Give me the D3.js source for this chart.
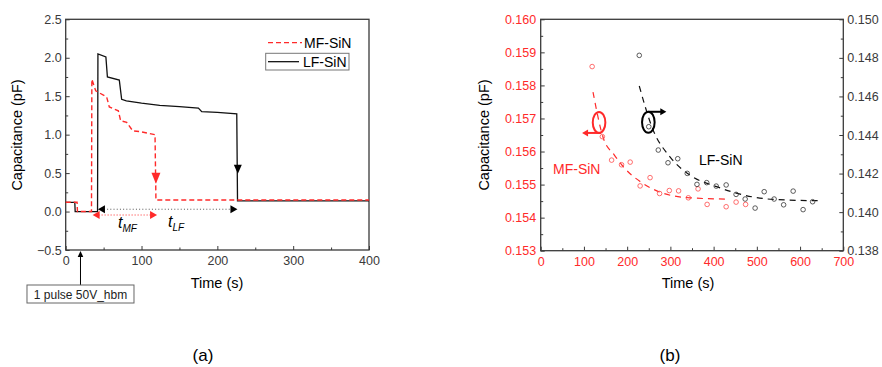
<!DOCTYPE html>
<html><head><meta charset="utf-8">
<script src="https://cdn.jsdelivr.net/npm/d3@7"></script>
<style>
body{margin:0;background:#fff}
svg{display:block}
text{font-family:"Liberation Sans",Arial,Helvetica,sans-serif}
</style>
</head><body>
<svg id="c" width="882" height="367"></svg>
<script>
// ---------------- DATA: panel (a) ----------------
const lfTime = [0, 12, 12.5, 42, 42.5, 53, 55, 70.7, 73.8, 80, 100, 124, 150, 175, 179.4, 200, 225.6, 226.6, 400];
const lfCap  = [0.12, 0.12, 0.0, 0.0, 2.05, 2.01, 1.75, 1.71, 1.46, 1.44, 1.41, 1.38, 1.365, 1.345, 1.30, 1.29, 1.27, 0.14, 0.14];
const mfTime = [0, 15, 15.5, 34, 34.5, 39.6, 54, 57.5, 69.4, 72.5, 80.4, 88.4, 98, 117.8, 119, 400];
const mfCap  = [0.12, 0.12, 0.0, 0.0, 1.72, 1.57, 1.49, 1.36, 1.31, 1.18, 1.16, 1.05, 1.04, 1.00, 0.15, 0.15];
const aXTicks = [0, 100, 200, 300, 400];
const aXMinor = [50, 150, 250, 350];
const aYTicks = [-0.5, 0, 0.5, 1.0, 1.5, 2.0, 2.5];
const aYMinor = [-0.25, 0.25, 0.75, 1.25, 1.75, 2.25];
const legendLabels = ["MF-SiN", "LF-SiN"];
const pulseTime = 19.5;
const pulseLabel = "1 pulse 50V_hbm";
// interval markers: [start, end, level]
const lfInterval = [42.5, 226.5, 0.03];
const mfInterval = [35.5, 120.5, -0.045];
const mfDropArrow = [119, 0.36];   // time, tip value
const lfDropArrow = [227, 0.49];

// ---------------- DATA: panel (b) ----------------
const mfT = [119, 142.6, 164, 187, 207, 230, 253, 275, 297.5, 319, 341.5, 364, 385, 429, 452, 474];
const mfC = [0.15857, 0.15645, 0.15574, 0.15560, 0.15568, 0.15496, 0.15521, 0.15473, 0.15482, 0.15481, 0.15460, 0.15487, 0.15440, 0.15433, 0.15447, 0.15440];
const lfT = [228, 250, 272, 294.5, 317, 339, 361.5, 384, 406, 429, 452, 473, 496, 517, 540, 562, 584, 607, 629];
const lfC = [0.14813, 0.14443, 0.14322, 0.14256, 0.14277, 0.14201, 0.14144, 0.14153, 0.14135, 0.14141, 0.14092, 0.14068, 0.14021, 0.14106, 0.14068, 0.14038, 0.14109, 0.14013, 0.14054];
const mfFitT = [121, 145, 170, 191, 230, 283, 345, 437];
const mfFitC = [0.15780, 0.15640, 0.15590, 0.15554, 0.15509, 0.15474, 0.15460, 0.15456];
const lfFitT = [228, 260, 299, 345, 407, 469, 538, 646];
const lfFitC = [0.14654, 0.14426, 0.14287, 0.14192, 0.14132, 0.14089, 0.14066, 0.14059];
const bXTicks = [0, 100, 200, 300, 400, 500, 600, 700];
const bXMinor = [50, 150, 250, 350, 450, 550, 650];
const bYLTicks = [0.153, 0.154, 0.155, 0.156, 0.157, 0.158, 0.159, 0.160];
const bYLMinor = [0.1535, 0.1545, 0.1555, 0.1565, 0.1575, 0.1585, 0.1595];
const bYRTicks = [0.138, 0.140, 0.142, 0.144, 0.146, 0.148, 0.150];
const bYRMinor = [0.139, 0.141, 0.143, 0.145, 0.147, 0.149];
const mfMarker = [135, 0.15688];   // ellipse centre (t, left-axis value)
const lfMarker = [249, 0.14466];   // ellipse centre (t, right-axis value)

// ---------------- DRAW ----------------
const svg = d3.select("#c");
const RED = "#ff2a2a", AX = "#3a3a3a";

function frame(g, x, y) {
  const [x0, x1] = x.range(), [y0, y1] = y.range();
  g.append("rect").attr("x", x0).attr("y", y1).attr("width", x1 - x0).attr("height", y0 - y1)
    .attr("fill", "none").attr("stroke", AX).attr("stroke-width", 1.3);
}
function styleAxis(sel, color, size) {
  sel.select(".domain").remove();
  sel.selectAll(".tick line").attr("stroke", AX).attr("stroke-width", 1);
  sel.selectAll(".tick text").attr("fill", color).attr("font-size", size)
     .attr("font-family", '"Liberation Sans",Arial,sans-serif');
}
function arrowHead(g, tipX, tipY, dir, len, half, color) {
  let p;
  if (dir === "left") p = [[tipX, tipY], [tipX + len, tipY - half], [tipX + len, tipY + half]];
  else if (dir === "right") p = [[tipX, tipY], [tipX - len, tipY - half], [tipX - len, tipY + half]];
  else if (dir === "down") p = [[tipX, tipY], [tipX - half, tipY - len], [tipX + half, tipY - len]];
  else p = [[tipX, tipY], [tipX - half, tipY + len], [tipX + half, tipY + len]];
  g.append("path").attr("d", "M" + p.join("L") + "Z").attr("fill", color);
}

// ===== Panel (a) =====
const xA = d3.scaleLinear().domain([0, 400]).range([65.7, 369]);
const yA = d3.scaleLinear().domain([-0.5, 2.5]).range([250, 19.3]);
const gA = svg.append("g");

gA.append("g").attr("transform", `translate(0,${yA.range()[0]})`)
  .call(d3.axisBottom(xA).tickValues(aXTicks).tickSize(-4).tickPadding(6).tickFormat(d3.format("d")))
  .call(s => styleAxis(s, AX, 12.5));
gA.append("g").attr("transform", `translate(0,${yA.range()[0]})`)
  .call(d3.axisBottom(xA).tickValues(aXMinor).tickSize(-2.5).tickFormat(""))
  .call(s => styleAxis(s, AX, 12));
gA.append("g").attr("transform", `translate(${xA.range()[0]},0)`)
  .call(d3.axisLeft(yA).tickValues(aYTicks).tickSize(-4).tickPadding(4).tickFormat(d3.format(".1f")))
  .call(s => styleAxis(s, AX, 12.5));
gA.append("g").attr("transform", `translate(${xA.range()[0]},0)`)
  .call(d3.axisLeft(yA).tickValues(aYMinor).tickSize(-2.5).tickFormat(""))
  .call(s => styleAxis(s, AX, 12));
frame(gA, xA, yA);

const lineA = d3.line().x(d => xA(d[0])).y(d => yA(d[1]));
gA.append("path").datum(lfTime.map((t, i) => [t, lfCap[i]]))
  .attr("d", lineA).attr("fill", "none").attr("stroke", "#111").attr("stroke-width", 1.3);
gA.append("path").datum(mfTime.map((t, i) => [t, mfCap[i]]))
  .attr("d", lineA).attr("fill", "none").attr("stroke", RED).attr("stroke-width", 1.4)
  .attr("stroke-dasharray", "5,3");

// drop arrows
arrowHead(gA, xA(mfDropArrow[0]), yA(mfDropArrow[1]), "down", 11, 4.5, RED);
arrowHead(gA, xA(lfDropArrow[0]), yA(lfDropArrow[1]), "down", 9, 4, "#000");

// interval arrows
gA.append("line").attr("x1", xA(lfInterval[0]) + 6).attr("x2", xA(lfInterval[1]) - 6)
  .attr("y1", yA(lfInterval[2])).attr("y2", yA(lfInterval[2]))
  .attr("stroke", "#555").attr("stroke-width", 1).attr("stroke-dasharray", "1,2.2");
arrowHead(gA, xA(lfInterval[0]), yA(lfInterval[2]), "left", 7, 4, "#000");
arrowHead(gA, xA(lfInterval[1]), yA(lfInterval[2]), "right", 7, 4, "#000");
gA.append("line").attr("x1", xA(mfInterval[0]) + 6).attr("x2", xA(mfInterval[1]) - 6)
  .attr("y1", yA(mfInterval[2])).attr("y2", yA(mfInterval[2]))
  .attr("stroke", RED).attr("stroke-width", 1).attr("stroke-dasharray", "1,2");
arrowHead(gA, xA(mfInterval[0]), yA(mfInterval[2]), "left", 7, 4, RED);
arrowHead(gA, xA(mfInterval[1]), yA(mfInterval[2]), "right", 7, 4, RED);

// t_MF, t_LF labels
function tLabel(g, x, y, sub) {
  const t = g.append("text").attr("x", x).attr("y", y)
    .attr("font-family", '"Liberation Serif","Times New Roman",serif').attr("font-style", "italic")
    .attr("font-size", 16).attr("fill", "#000");
  t.append("tspan").text("t");
  t.append("tspan").attr("dy", 4).attr("font-size", 10).text(sub);
}
tLabel(gA, xA(69), yA(-0.22), "MF");
tLabel(gA, xA(135), yA(-0.2), "LF");

// legend
const legY1 = 42.7, legY2 = 61.7, legX = 268;
gA.append("rect").attr("x", 265.7).attr("y", 53.3).attr("width", 83.3).attr("height", 16.7)
  .attr("fill", "#fff").attr("stroke", "#777").attr("stroke-width", 1);
gA.append("line").attr("x1", legX).attr("x2", legX + 34).attr("y1", legY1).attr("y2", legY1)
  .attr("stroke", RED).attr("stroke-width", 1.3).attr("stroke-dasharray", "5,3");
gA.append("text").attr("x", legX + 36).attr("y", legY1 + 5).attr("font-size", 14).attr("fill", "#000").text(legendLabels[0]);
gA.append("line").attr("x1", legX).attr("x2", legX + 31).attr("y1", legY2).attr("y2", legY2)
  .attr("stroke", "#000").attr("stroke-width", 1.2);
gA.append("text").attr("x", legX + 35).attr("y", legY2 + 5).attr("font-size", 14).attr("fill", "#000").text(legendLabels[1]);

// pulse annotation
const px = xA(pulseTime), py0 = yA.range()[0];
gA.append("line").attr("x1", px).attr("x2", px).attr("y1", py0 + 6).attr("y2", py0 + 35)
  .attr("stroke", "#000").attr("stroke-width", 1);
arrowHead(gA, px, py0 + 1, "up", 6, 2.8, "#000");
gA.append("rect").attr("x", px - 53.5).attr("y", py0 + 35).attr("width", 107).attr("height", 18)
  .attr("fill", "#fff").attr("stroke", "#666").attr("stroke-width", 1);
gA.append("text").attr("x", px).attr("y", py0 + 48.5).attr("text-anchor", "middle")
  .attr("font-size", 12).attr("fill", "#222").text(pulseLabel);

// titles
gA.append("text").attr("transform", "translate(22,135) rotate(-90)").attr("text-anchor", "middle")
  .attr("font-size", 14.5).attr("fill", "#000").text("Capacitance (pF)");
gA.append("text").attr("x", 217).attr("y", 288).attr("text-anchor", "middle")
  .attr("font-size", 14.5).attr("fill", "#000").text("Time (s)");

// ===== Panel (b) =====
const xB = d3.scaleLinear().domain([0, 700]).range([540.7, 843.3]);
const yBL = d3.scaleLinear().domain([0.153, 0.160]).range([250.7, 19.3]);
const yBR = d3.scaleLinear().domain([0.138, 0.150]).range([250.7, 19.3]);
const gB = svg.append("g");

gB.append("g").attr("transform", `translate(0,${yBL.range()[0]})`)
  .call(d3.axisBottom(xB).tickValues(bXTicks).tickSize(-4).tickPadding(6).tickFormat(d3.format("d")))
  .call(s => styleAxis(s, RED, 12.5));
gB.append("g").attr("transform", `translate(0,${yBL.range()[0]})`)
  .call(d3.axisBottom(xB).tickValues(bXMinor).tickSize(-2.5).tickFormat(""))
  .call(s => styleAxis(s, RED, 12));
gB.append("g").attr("transform", `translate(${xB.range()[0]},0)`)
  .call(d3.axisLeft(yBL).tickValues(bYLTicks).tickSize(-4).tickPadding(4.5).tickFormat(d3.format(".3f")))
  .call(s => styleAxis(s, RED, 12.5));
gB.append("g").attr("transform", `translate(${xB.range()[0]},0)`)
  .call(d3.axisLeft(yBL).tickValues(bYLMinor).tickSize(-2.5).tickFormat(""))
  .call(s => styleAxis(s, RED, 12));
gB.append("g").attr("transform", `translate(${xB.range()[1]},0)`)
  .call(d3.axisRight(yBR).tickValues(bYRTicks).tickSize(-4).tickPadding(4).tickFormat(d3.format(".3f")))
  .call(s => styleAxis(s, AX, 12.5));
gB.append("g").attr("transform", `translate(${xB.range()[1]},0)`)
  .call(d3.axisRight(yBR).tickValues(bYRMinor).tickSize(-2.5).tickFormat(""))
  .call(s => styleAxis(s, AX, 12));
frame(gB, xB, yBL);

// fits
gB.append("path").datum(mfFitT.map((t, i) => [t, mfFitC[i]]))
  .attr("d", d3.line().x(d => xB(d[0])).y(d => yBL(d[1])).curve(d3.curveMonotoneX))
  .attr("fill", "none").attr("stroke", RED).attr("stroke-width", 1.2).attr("stroke-dasharray", "6,5");
gB.append("path").datum(lfFitT.map((t, i) => [t, lfFitC[i]]))
  .attr("d", d3.line().x(d => xB(d[0])).y(d => yBR(d[1])).curve(d3.curveMonotoneX))
  .attr("fill", "none").attr("stroke", "#111").attr("stroke-width", 1.2).attr("stroke-dasharray", "6,5");

// points
gB.selectAll("circle.mf").data(mfT.map((t, i) => [t, mfC[i]])).join("circle").attr("class", "mf")
  .attr("cx", d => xB(d[0])).attr("cy", d => yBL(d[1])).attr("r", 2.3)
  .attr("fill", "none").attr("stroke", "#ff4a4a").attr("stroke-width", 0.8);
gB.selectAll("circle.lf").data(lfT.map((t, i) => [t, lfC[i]])).join("circle").attr("class", "lf")
  .attr("cx", d => xB(d[0])).attr("cy", d => yBR(d[1])).attr("r", 2.3)
  .attr("fill", "none").attr("stroke", "#333").attr("stroke-width", 0.8);

// axis-pointer ellipses
const mcx = xB(mfMarker[0]), mcy = yBL(mfMarker[1]);
gB.append("ellipse").attr("cx", mcx).attr("cy", mcy).attr("rx", 6.3).attr("ry", 10.5)
  .attr("fill", "none").attr("stroke", RED).attr("stroke-width", 2);
gB.append("line").attr("x1", mcx + 2).attr("x2", mcx - 12).attr("y1", mcy + 10.5).attr("y2", mcy + 10.5)
  .attr("stroke", RED).attr("stroke-width", 2);
arrowHead(gB, mcx - 17, mcy + 10.5, "left", 6, 3.5, RED);
const lcx = xB(lfMarker[0]), lcy = yBR(lfMarker[1]);
gB.append("ellipse").attr("cx", lcx).attr("cy", lcy).attr("rx", 6.3).attr("ry", 10.5)
  .attr("fill", "none").attr("stroke", "#000").attr("stroke-width", 2);
gB.append("line").attr("x1", lcx).attr("x2", lcx + 13).attr("y1", lcy - 10.5).attr("y2", lcy - 10.5)
  .attr("stroke", "#000").attr("stroke-width", 2);
arrowHead(gB, lcx + 18, lcy - 10.5, "right", 6, 3.5, "#000");

// series labels
gB.append("text").attr("x", 553).attr("y", 174).attr("font-size", 14).attr("fill", RED).text("MF-SiN");
gB.append("text").attr("x", 699).attr("y", 165).attr("font-size", 14).attr("fill", "#000").text("LF-SiN");

// titles
gB.append("text").attr("transform", "translate(489,135) rotate(-90)").attr("text-anchor", "middle")
  .attr("font-size", 14.5).attr("fill", "#000").text("Capacitance (pF)");
gB.append("text").attr("x", 688).attr("y", 288).attr("text-anchor", "middle")
  .attr("font-size", 14.5).attr("fill", "#000").text("Time (s)");

// captions
svg.append("text").attr("x", 203).attr("y", 361).attr("text-anchor", "middle")
  .attr("font-family", '"Liberation Serif","DejaVu Serif",serif').attr("font-size", 17).text("(a)");
svg.append("text").attr("x", 670).attr("y", 361).attr("text-anchor", "middle")
  .attr("font-family", '"Liberation Serif","DejaVu Serif",serif').attr("font-size", 17).text("(b)");
</script>
</body></html>
